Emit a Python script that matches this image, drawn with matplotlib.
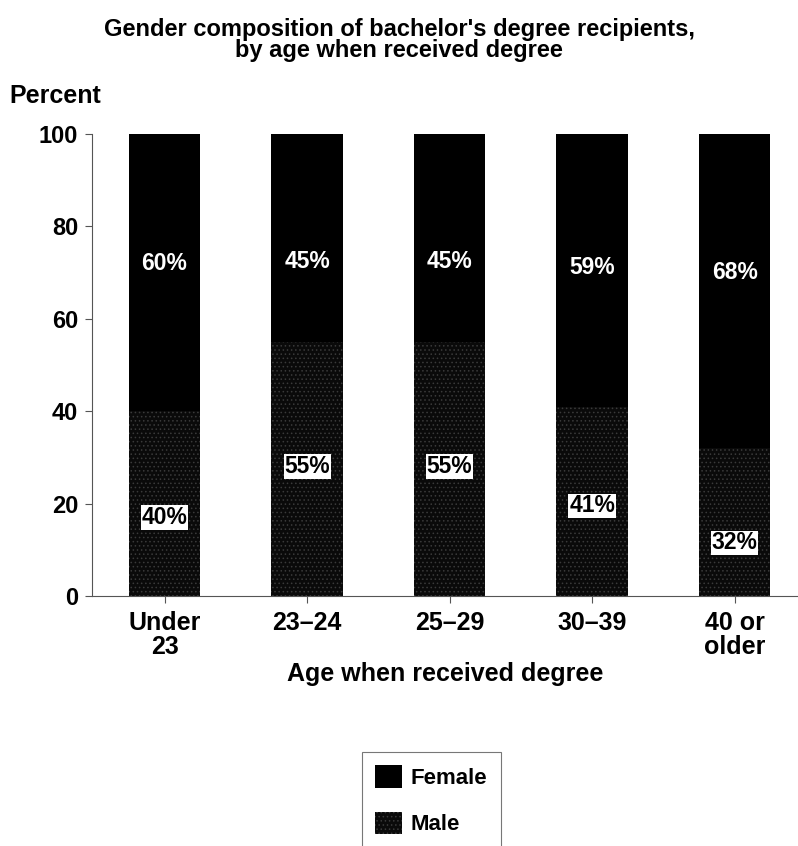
import numpy as np
import matplotlib
matplotlib.use("Agg")
import matplotlib.pyplot as plt
from matplotlib.patches import Patch

plt.rcParams['font.family'] = ['Liberation Sans', 'DejaVu Sans']
plt.rcParams['hatch.color'] = '#3a3a3a'
plt.rcParams['hatch.linewidth'] = 0.6

ages = ["Under\n23", "23\u201324", "25\u201329", "30\u201339", "40 or\nolder"]
male = [40, 55, 55, 41, 32]
female = [60, 45, 45, 59, 68]
# label heights (in percent units) as placed in the reference
male_lab_y = [17, 28, 28, 19.5, 11.5]
female_lab_y = [72, 72.5, 72.5, 71, 70]

fig = plt.figure(figsize=(7.98, 8.46), dpi=100)
ax = fig.add_axes([0.1153, 0.2955, 0.8847, 0.5461])

x = np.arange(len(ages))
w = 0.5
ax.bar(x, male, w, color='#0a0a0a', hatch='....', edgecolor='#3a3a3a', linewidth=0)
ax.bar(x, female, w, bottom=male, color='black', linewidth=0)

for i in range(len(ages)):
    ax.text(x[i], female_lab_y[i], f"{female[i]}%", color='white', ha='center', va='center',
            fontsize=16.5, fontweight='bold')
    ax.text(x[i], male_lab_y[i], f"{male[i]}%", color='black', ha='center', va='center',
            fontsize=16.5, fontweight='bold',
            bbox=dict(facecolor='white', edgecolor='none', pad=0.5))

ax.set_xlim(-0.509, 4.445)
ax.set_ylim(0, 100)
ax.set_yticks([0, 20, 40, 60, 80, 100])
ax.set_xticks(x)
ax.set_xticklabels(ages, fontsize=18, fontweight='bold', linespacing=1.0)
for t in ax.get_yticklabels():
    t.set_fontsize(17); t.set_fontweight('bold')
ax.tick_params(axis='y', length=5, color='#555555', pad=5)
ax.tick_params(axis='x', length=5, color='#555555', pad=6)
for s in ['top', 'right']:
    ax.spines[s].set_visible(False)
ax.spines['left'].set_color('#555555')
ax.spines['bottom'].set_color('#555555')
ax.set_xlabel("Age when received degree", fontsize=18, fontweight='bold', labelpad=2)

fig.text(0.5, 0.953, "Gender composition of bachelor's degree recipients,\nby age when received degree",
         ha='center', va='center', fontsize=17, fontweight='bold', linespacing=0.9)
fig.text(0.012, 0.887, "Percent", ha='left', va='center', fontsize=18, fontweight='bold')

handles = [Patch(facecolor='black', edgecolor='none', label='Female'),
           Patch(facecolor='#0a0a0a', hatch='....', edgecolor='#3a3a3a', linewidth=0, label='Male')]
leg = fig.legend(handles=handles, loc='upper left', bbox_to_anchor=(0.4536, 0.111),
                 borderaxespad=0, fontsize=16, frameon=True, fancybox=False,
                 handlelength=1.2, handleheight=1.2,
                 labelspacing=1.0, borderpad=0.6, handletextpad=0.4)
leg.get_frame().set_edgecolor('#555555')
leg.get_frame().set_linewidth(0.8)
for t in leg.get_texts():
    t.set_fontweight('bold')

fig.savefig("out.png", dpi=100)
